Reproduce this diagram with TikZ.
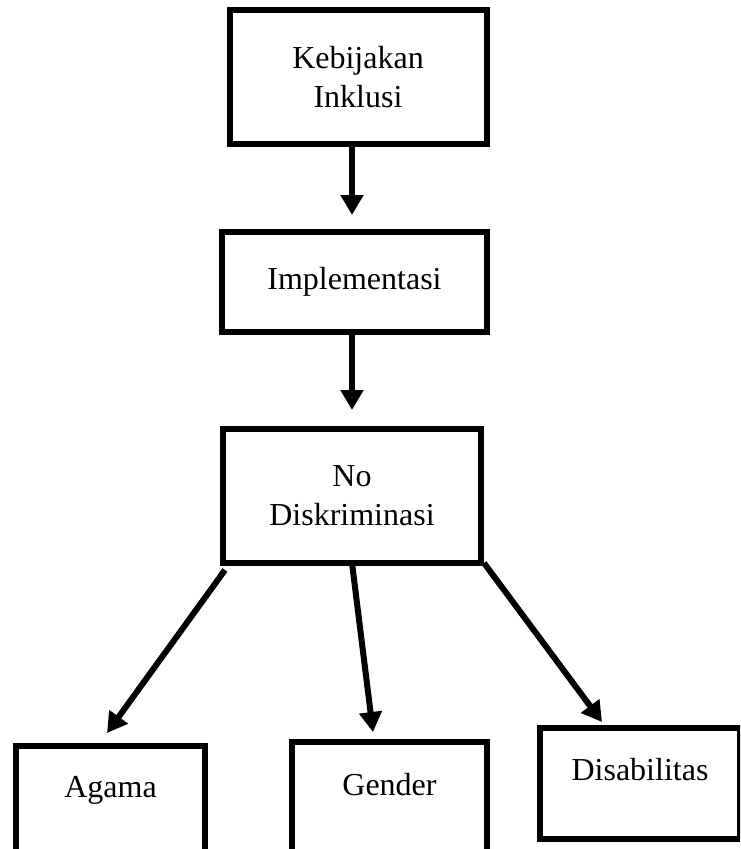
\documentclass[tikz,border=0pt]{standalone}
\usepackage{fontspec}
\setmainfont{Liberation Serif}
\usepackage{tikz}
\usetikzlibrary{arrows.meta}

\tikzset{
  kotak/.style={draw=black,line width=6pt,rectangle,align=center,inner sep=0pt,
    font=\fontsize{32}{39}\selectfont},
  panah/.style={line width=6pt,-{Triangle[length=20pt,width=22pt]}}
}

\begin{document}
\begin{tikzpicture}[x=1pt,y=-1pt]
  \clip (0,0) rectangle (740,849);
  \fill[white] (0,0) rectangle (740,849);
  % kotak atas
  \node[kotak,minimum width=257pt,minimum height=134pt] (kebijakan) at (358,77) {Kebijakan\\Inklusi};
  \node[kotak,minimum width=265pt,minimum height=100pt] (impl) at (354.5,282) {Implementasi};
  \node[kotak,minimum width=258pt,minimum height=134pt] (nodis) at (352,496) {No\\Diskriminasi};
  % kotak bawah
  \node[kotak,anchor=base,minimum width=189pt,text height=51pt,text depth=150pt] (agama) at (110.5,797) {Agama};
  \node[kotak,anchor=base,minimum width=195pt,text height=53pt,text depth=150pt] (gender) at (389.5,795) {Gender};
  \node[kotak,anchor=base,minimum width=200pt,text height=52pt,text depth=59pt] (disab) at (640,780) {Disabilitas};
  % ujung panah
  \coordinate (ujung1) at (352,215);
  \coordinate (ujung2) at (352,410);
  \coordinate (ujungA) at (107,733);
  \coordinate (ujungG) at (373,732);
  \coordinate (ujungD) at (602,722);
  % panah
  \draw[panah] (kebijakan.south -| ujung1) -- (ujung1);
  \draw[panah] (impl.south -| ujung2) -- (ujung2);
  \draw[panah] ([shift={(5,4)}]nodis.south west) -- (ujungA);
  \draw[panah] ([yshift=3pt]nodis.south) -- (ujungG);
  \draw[panah] ([yshift=3pt]nodis.south east) -- (ujungD);
\end{tikzpicture}
\end{document}
